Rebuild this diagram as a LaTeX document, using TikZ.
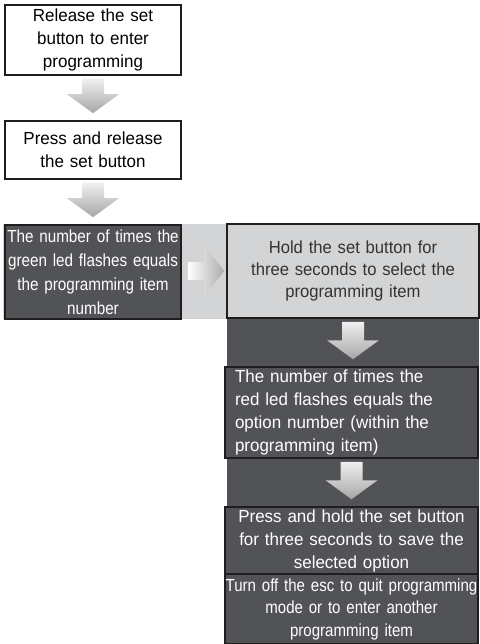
\documentclass[tikz,border=0pt]{standalone}
\usepackage{fontspec}
\setmainfont[FakeStretch=0.97]{Liberation Sans}
\newfontfamily\greenfont[FakeStretch=0.87]{Liberation Sans}
\newfontfamily\holdfont[FakeStretch=0.95]{Liberation Sans}
\newfontfamily\quitfont[FakeStretch=0.86]{Liberation Sans}
\usetikzlibrary{calc}
\definecolor{darkfill}{HTML}{515356}
\definecolor{lightfill}{HTML}{D3D4D5}
\definecolor{boxline}{HTML}{1E1E1E}
\newcommand{\flowdown}[2]{%
  \shade[top color=gray!12,bottom color=gray!70]
    ($(#1.south)+(-11,3)$) -- ($(#1.south)+(11,3)$) --
    ($(#1.south |- #2.north)+(11,-26)$) -- ($(#1.south |- #2.north)+(26,-26)$) --
    ($(#1.south |- #2.north)+(0,-7)$) -- ($(#1.south |- #2.north)+(-26,-26)$) --
    ($(#1.south |- #2.north)+(-11,-26)$) -- cycle;}
\begin{document}
\begin{tikzpicture}[x=1pt,y=-1pt,
    stepbox/.style={draw=boxline,line width=1.5pt,inner sep=0pt,align=center,
        font=\fontsize{17.5}{23}\selectfont},
    wbox/.style={stepbox,fill=white,text=black},
    gbox/.style={stepbox,fill=lightfill,text=black!80},
    dbox/.style={stepbox,fill=darkfill,text=white}]

    \useasboundingbox (0,0) rectangle (479,644);
    \fill[lightfill] (3,224) rectangle (479,319);
    \fill[darkfill] (227,318) rectangle (479,644);

    \node[wbox,minimum width=176pt,minimum height=70pt,text width=174pt]
        (release) at (93,40) {Release the set\\button to enter\\programming};
    \node[wbox,minimum width=176pt,minimum height=58pt,text width=174pt]
        (press) at (93,150) {Press and release\\the set button};
    \node[dbox,minimum width=176pt,minimum height=94pt,text width=175pt,
        font=\greenfont\fontsize{17.5}{24}\selectfont]
        (green) at (93,272) {The number of times the\\green led flashes equals\\the programming item\\number};
    \node[gbox,minimum width=252pt,minimum height=94pt,text width=248pt,
        font=\holdfont\fontsize{17.5}{22}\selectfont]
        (hold) at (353,271) {Hold the set button for\\three seconds to select the\\programming item};
    \node[dbox,minimum width=253pt,minimum height=91pt,text width=233pt,align=left]
        (red) at (351.5,412.5) {The number of times the\\red led flashes equals the\\option number (within the\\programming item)};
    \node[dbox,minimum width=253pt,minimum height=67pt,text width=251pt]
        (save) at (351.5,540.5) {Press and hold the set button\\for three seconds to save the\\selected option};
    \node[dbox,minimum width=253pt,minimum height=70pt,text width=253pt,
        font=\quitfont\fontsize{17.5}{22.5}\selectfont]
        (quit) at (351.5,609) {Turn off the esc to quit programming\\mode or to enter another\\programming item};

    \flowdown{release}{press}
    \flowdown{press}{green}
    \flowdown{hold}{red}
    \flowdown{red}{save}
    \shade[left color=white,right color=gray!65]
        ($(green.east |- hold.west)+(6,-9)$) -- ($(hold.west)+(-22,-9)$) --
        ($(hold.west)+(-22,-25)$) -- ($(hold.west)+(-2,0)$) --
        ($(hold.west)+(-22,25)$) -- ($(hold.west)+(-22,9)$) --
        ($(green.east |- hold.west)+(6,9)$) -- cycle;

\end{tikzpicture}
\end{document}
